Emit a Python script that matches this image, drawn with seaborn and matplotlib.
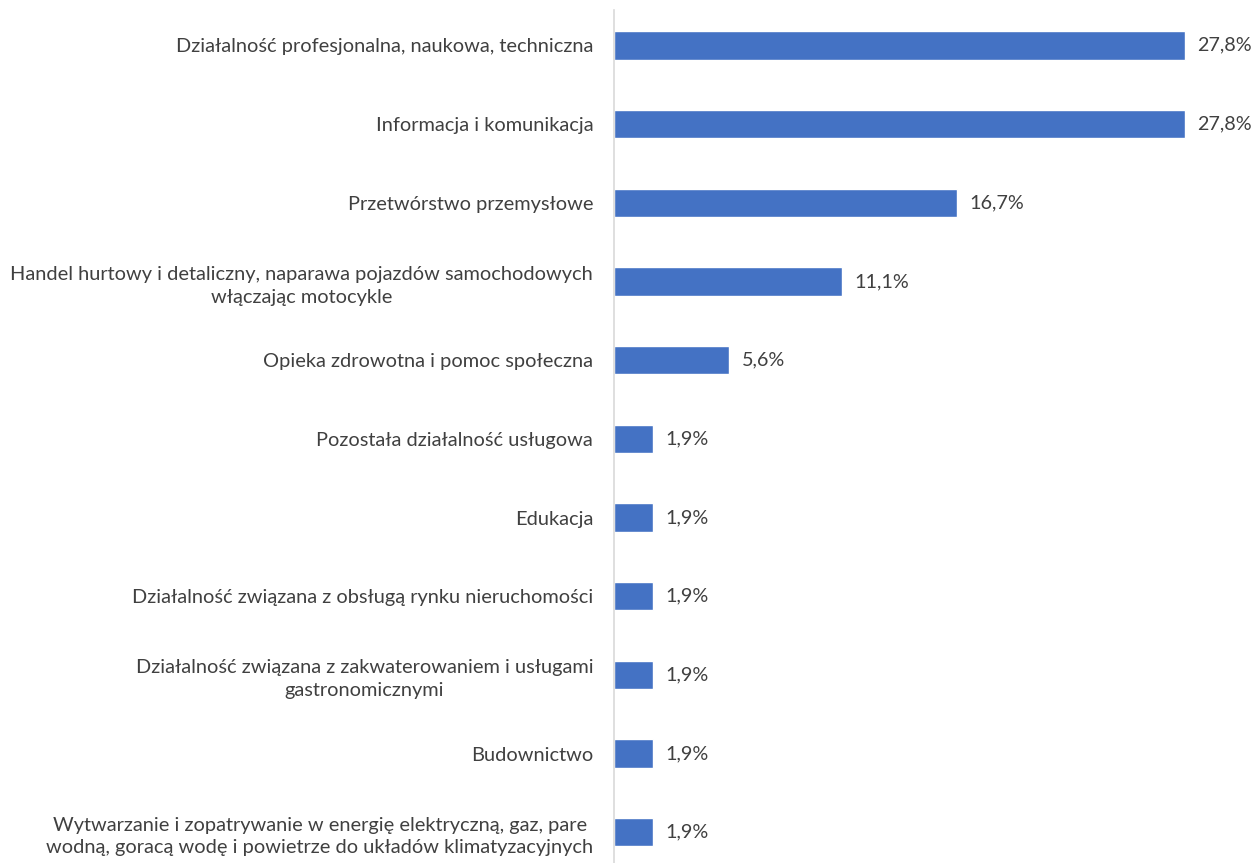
import pandas as pd
import matplotlib.pyplot as plt
import seaborn as sns

# Dane
kategorie = [
    'Działalność profesjonalna, naukowa, techniczna',
    'Informacja i komunikacja',
    'Przetwórstwo przemysłowe',
    'Handel hurtowy i detaliczny, naparawa pojazdów samochodowych\nwłączając motocykle',
    'Opieka zdrowotna i pomoc społeczna',
    'Pozostała działalność usługowa',
    'Edukacja',
    'Działalność związana z obsługą rynku nieruchomości',
    'Działalność związana z zakwaterowaniem i usługami\ngastronomicznymi',
    'Budownictwo',
    'Wytwarzanie i zopatrywanie w energię elektryczną, gaz, pare\nwodną, goracą wodę i powietrze do układów klimatyzacyjnych',
]
wartosci = [27.8, 27.8, 16.7, 11.1, 5.6, 1.9, 1.9, 1.9, 1.9, 1.9, 1.9]

df = pd.DataFrame({'Kategoria': kategorie, 'Udział': wartosci})

sns.set_style('white')
plt.rcParams['font.family'] = ['Lato', 'DejaVu Sans']

fig = plt.figure(figsize=(12.53, 8.63), dpi=100)
ax = fig.add_axes([0.49, 0.0, 0.50, 0.988])

sns.barplot(data=df, x='Udział', y='Kategoria', color='#4472C4',
            width=0.36, saturation=1, ax=ax)

etykiety = [f'{v:.1f}%'.replace('.', ',') for v in wartosci]
ax.bar_label(ax.containers[0], labels=etykiety, padding=9,
             fontsize=14.2, color='#404040')

ax.set_xlim(0, 30.5)
ax.set_ylim(10.39, -0.445)
ax.set_xlabel('')
ax.set_ylabel('')
ax.set_xticks([])
ax.tick_params(axis='y', length=0, pad=15, labelsize=14.4, labelcolor='#404040')
for lbl in ax.get_yticklabels():
    lbl.set_multialignment('center')
    lbl.set_linespacing(1.4)

for s in ['top', 'right', 'bottom']:
    ax.spines[s].set_visible(False)
ax.spines['left'].set_color('#D9D9D9')
ax.spines['left'].set_linewidth(1.2)

fig.savefig('out.png', dpi=100)
